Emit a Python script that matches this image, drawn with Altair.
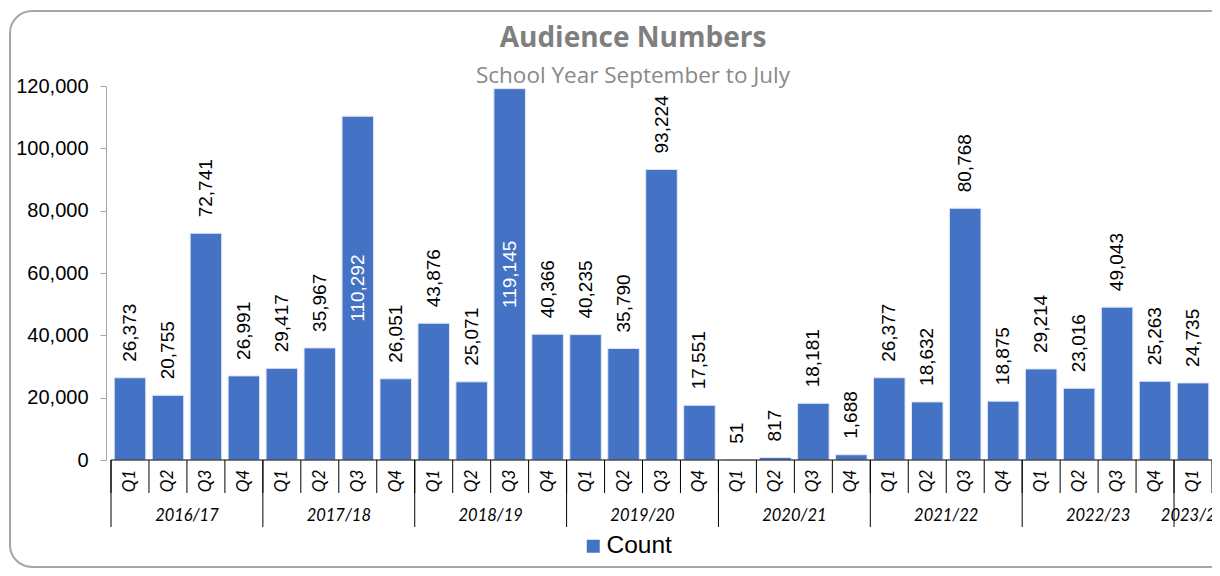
import altair as alt
import pandas as pd

years = ["2016/17"] * 4 + ["2017/18"] * 4 + ["2018/19"] * 4 + ["2019/20"] * 4 + \
        ["2020/21"] * 4 + ["2021/22"] * 4 + ["2022/23"] * 4 + ["2023/24"]
quarters = ["Q1", "Q2", "Q3", "Q4"] * 7 + ["Q1"]
counts = [26373, 20755, 72741, 26991,
          29417, 35967, 110292, 26051,
          43876, 25071, 119145, 40366,
          40235, 35790, 93224, 17551,
          51, 817, 18181, 1688,
          26377, 18632, 80768, 18875,
          29214, 23016, 49043, 25263,
          24735]
y_ticks = [0, 20000, 40000, 60000, 80000, 100000, 120000]

df = pd.DataFrame({"year": years, "quarter": quarters, "count": counts})
df["idx"] = range(len(df))
df["series"] = "Count"

grp = df.groupby("year", sort=False)["idx"].agg(["min", "count"]).reset_index()
grp["center"] = grp["min"] + grp["count"] / 2.0
bounds = pd.DataFrame({"b": list(range(len(df) + 1))})
ybounds = pd.DataFrame({"b": list(grp["min"])})

W, H = 1111, 374
n = len(df)
xs = alt.Scale(domain=[0, n], nice=False, zero=False)
ys = alt.Scale(domain=[0, 120000], nice=False)
y_axis = alt.Axis(values=y_ticks, format=",.0f", formatType="number",
                  labelFont="Liberation Sans", labelFontSize=20, labelColor="black",
                  labelPadding=12, tickSize=6, tickColor="#a6a6a6",
                  domainColor="#a6a6a6", grid=False, title=None)

base = alt.Chart(df)

bars = base.transform_calculate(
    x0="datum.idx + 0.085", x1="datum.idx + 0.915"
).mark_bar(stroke="#dfe7f5", strokeWidth=1, orient="vertical").encode(
    x=alt.X("x0:Q", scale=xs, axis=None),
    x2="x1:Q",
    y=alt.Y("count:Q", scale=ys, axis=y_axis),
    y2=alt.datum(0),
    color=alt.Color("series:N", scale=alt.Scale(range=["#4472C4"]),
                    legend=alt.Legend(title=None, orient="none", legendX=475, legendY=448,
                                      symbolType="square", symbolSize=169,
                                      symbolStrokeWidth=0, labelFont="Liberation Sans",
                                      labelFontSize=24.5, labelColor="black",
                                      labelOffset=1, padding=0)),
)

out_labels = base.transform_filter("datum.count < 100000").transform_calculate(
    xc="datum.idx + 0.5"
).mark_text(angle=270, align="left", baseline="middle", dx=16,
            font="Liberation Sans", fontSize=19, color="black").encode(
    x=alt.X("xc:Q", scale=xs, axis=None),
    y=alt.Y("count:Q", scale=ys, axis=y_axis),
    text=alt.Text("count:Q", format=","),
)

in_labels = base.transform_filter("datum.count >= 100000").transform_calculate(
    xc="datum.idx + 0.5", ym="datum.count / 2"
).mark_text(angle=270, align="center", baseline="middle",
            font="Liberation Sans", fontSize=19, color="white").encode(
    x=alt.X("xc:Q", scale=xs, axis=None),
    y=alt.Y("ym:Q", scale=ys, axis=y_axis),
    text=alt.Text("count:Q", format=","),
)

baseline = alt.Chart(pd.DataFrame({"a": [0]})).mark_rule(color="black", strokeWidth=1).encode(
    x=alt.datum(0, scale=xs, axis=None), x2=alt.datum(n),
    y=alt.datum(0, scale=ys, axis=y_axis)
)

qticks = alt.Chart(bounds).mark_rule(color="black", strokeWidth=1).encode(
    x=alt.X("b:Q", scale=xs, axis=None), y=alt.value(H), y2=alt.value(H + 33)
)
yticks = alt.Chart(ybounds).mark_rule(color="black", strokeWidth=1).encode(
    x=alt.X("b:Q", scale=xs, axis=None), y=alt.value(H), y2=alt.value(H + 67)
)

qlabels = base.transform_calculate(xc="datum.idx + 0.5").mark_text(
    angle=270, align="center", baseline="middle", font="Lato", fontStyle="italic",
    fontSize=17, color="black"
).encode(x=alt.X("xc:Q", scale=xs, axis=None), y=alt.value(H + 21), text="quarter:N")

ylabels = alt.Chart(grp).mark_text(
    align="center", baseline="middle", font="Lato", fontStyle="italic",
    fontSize=16.5, color="black"
).encode(x=alt.X("center:Q", scale=xs, axis=None), y=alt.value(H + 56), text="year:N")

border = alt.Chart(pd.DataFrame({"a": [0]})).mark_rect(
    fill="white", fillOpacity=0, stroke="#a6a6a6", strokeWidth=2, cornerRadius=22
).encode(x=alt.value(-96), x2=alt.value(1140), y=alt.value(-75), y2=alt.value(481))

title = alt.Chart(pd.DataFrame({"a": [0]})).mark_text(
    text="Audience Numbers", font="Open Sans", fontWeight="bold", fontSize=28,
    color="#7f7f7f", align="center", baseline="alphabetic"
).encode(x=alt.value(527), y=alt.value(-39))

subtitle = alt.Chart(pd.DataFrame({"a": [0]})).mark_text(
    text="School Year September to July", font="Open Sans", fontSize=22.5,
    color="#898989", align="center", baseline="alphabetic"
).encode(x=alt.value(527), y=alt.value(-3))

chart = alt.layer(
    border, bars, out_labels, in_labels, baseline, qticks, yticks, qlabels, ylabels,
    title, subtitle
).properties(
    width=W, height=H,
    padding={"left": 98, "top": 78, "right": -5, "bottom": 108},
    autosize=alt.AutoSizeParams(type="none"),
).configure_view(stroke=None)

chart.save("out.html", embed_options={"renderer": "svg", "actions": False})
